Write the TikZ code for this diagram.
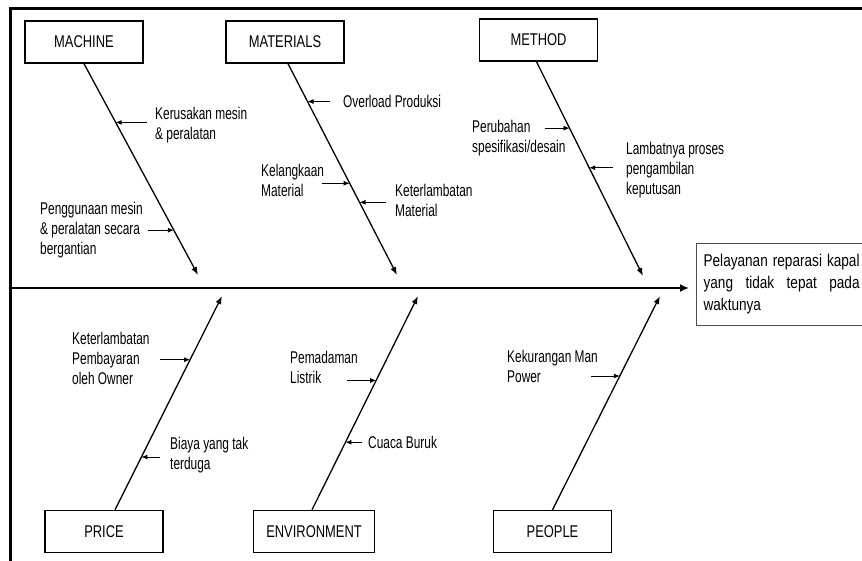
\documentclass[tikz,border=0pt]{standalone}
\usepackage{fontspec}
\setmainfont[FakeStretch=0.7]{Liberation Sans}
\newfontfamily\catfont[FakeStretch=0.76]{Liberation Sans}
\newfontfamily\effectfont[FakeStretch=0.8]{Liberation Sans}
\usetikzlibrary{arrows.meta,calc}

\begin{document}
\begin{tikzpicture}[x=1pt,y=-1pt,
  catbox/.style={draw,line width=1.4pt,minimum width=118pt,minimum height=42pt,
    font=\catfont\fontsize{17}{20}\selectfont},
  cause/.style={anchor=west,align=left,inner sep=0pt,font=\fontsize{17}{20}\selectfont},
  bone/.style={line width=1.3pt,-{Latex[length=8pt,width=6pt]}},
  tick/.style={line width=0.9pt,-{Latex[length=6pt,width=5pt]}},
  spine/.style={line width=2.6pt,-{Latex[length=9pt,width=8pt]}}]
\useasboundingbox (0,0) rectangle (862,561);
\draw[line width=3pt] (10.5,561) |- (862,8.5);

\node[catbox] (machine) at (84,42) {MACHINE};
\node[catbox] (materials) at (285,42) {MATERIALS};
\node[catbox] (method) at (538.5,40) {METHOD};
\node[catbox] (price) at (104,531.5) {PRICE};
\node[catbox,minimum width=121pt] (environment) at (314,531.5) {ENVIRONMENT};
\node[catbox] (people) at (552.5,531.5) {PEOPLE};
\node[draw=black!70,line width=1.2pt,anchor=north west,text width=156pt,inner xsep=7pt,
  minimum height=82pt,align=justify,font=\effectfont\fontsize{17}{22}\selectfont]
  (effect) at (696,243) {Pelayanan reparasi kapal\linebreak yang tidak tepat pada\linebreak waktunya};

\coordinate (tail) at (12,288);
\draw[spine,shorten >=7pt] (tail) -- (tail -| effect.west);

\coordinate (m1) at (198,275);
\coordinate (m2) at (397,275);
\coordinate (m3) at (643,276);
\coordinate (m4) at (222,296);
\coordinate (m5) at (418,296);
\coordinate (m6) at (660,296);
\draw[bone] (machine.south) -- (m1);
\draw[bone] ([xshift=3pt]materials.south) -- (m2);
\draw[bone] ([xshift=-2pt]method.south) -- (m3);
\draw[bone] ([xshift=11pt]price.north) -- (m4);
\draw[bone] ([xshift=-2pt]environment.north) -- (m5);
\draw[bone] (people.north) -- (m6);

\coordinate (k1) at ($(machine.south)!0.278!(m1)$);
\coordinate (k2) at ($(machine.south)!0.788!(m1)$);
\coordinate (k3) at ($([xshift=3pt]materials.south)!0.179!(m2)$);
\coordinate (k4) at ($([xshift=3pt]materials.south)!0.566!(m2)$);
\coordinate (k5) at ($([xshift=3pt]materials.south)!0.656!(m2)$);
\coordinate (k6) at ($([xshift=-2pt]method.south)!0.31!(m3)$);
\coordinate (k7) at ($([xshift=-2pt]method.south)!0.495!(m3)$);
\coordinate (k8) at ($([xshift=11pt]price.north)!0.702!(m4)$);
\coordinate (k9) at ($([xshift=11pt]price.north)!0.247!(m4)$);
\coordinate (k10) at ($([xshift=-2pt]environment.north)!0.605!(m5)$);
\coordinate (k11) at ($([xshift=-2pt]environment.north)!0.316!(m5)$);
\coordinate (k12) at ($(people.north)!0.626!(m6)$);

\node[cause] (c1) at (155,125) {Kerusakan mesin\\\& peralatan};
\node[cause] (c2) at (40,230) {Penggunaan mesin\\\& peralatan secara\\bergantian};
\node[cause] (c3) at (343,101) {Overload Produksi};
\node[cause] (c4) at (261,180) {Kelangkaan\\Material};
\node[cause] (c5) at (395,200) {Keterlambatan\\Material};
\node[cause] (c6) at (472,138) {Perubahan\\spesifikasi/desain};
\node[cause] (c7) at (626,170) {Lambatnya proses\\pengambilan\\keputusan};
\node[cause] (c8) at (72,358) {Keterlambatan\\Pembayaran\\oleh Owner};
\node[cause] (c9) at (170,455) {Biaya yang tak\\terduga};
\node[cause] (c10) at (290,367) {Pemadaman\\Listrik};
\node[cause] (c11) at (368,442) {Cuaca Buruk};
\node[cause] (c12) at (507,366) {Kekurangan Man\\Power};

\draw[tick] ([xshift=31pt]k1) -- (k1);
\draw[tick] ([xshift=-26pt]k2) -- (k2);
\draw[tick] ([xshift=22pt]k3) -- (k3);
\draw[tick] ([xshift=-28pt]k4) -- (k4);
\draw[tick] ([xshift=26pt]k5) -- (k5);
\draw[tick] ([xshift=-25pt]k6) -- (k6);
\draw[tick] ([xshift=24pt]k7) -- (k7);
\draw[tick] ([xshift=-30pt]k8) -- (k8);
\draw[tick] ([xshift=19pt]k9) -- (k9);
\draw[tick] ([xshift=-29pt]k10) -- (k10);
\draw[tick] ([xshift=17pt]k11) -- (k11);
\draw[tick] ([xshift=-29pt]k12) -- (k12);
\end{tikzpicture}
\end{document}
